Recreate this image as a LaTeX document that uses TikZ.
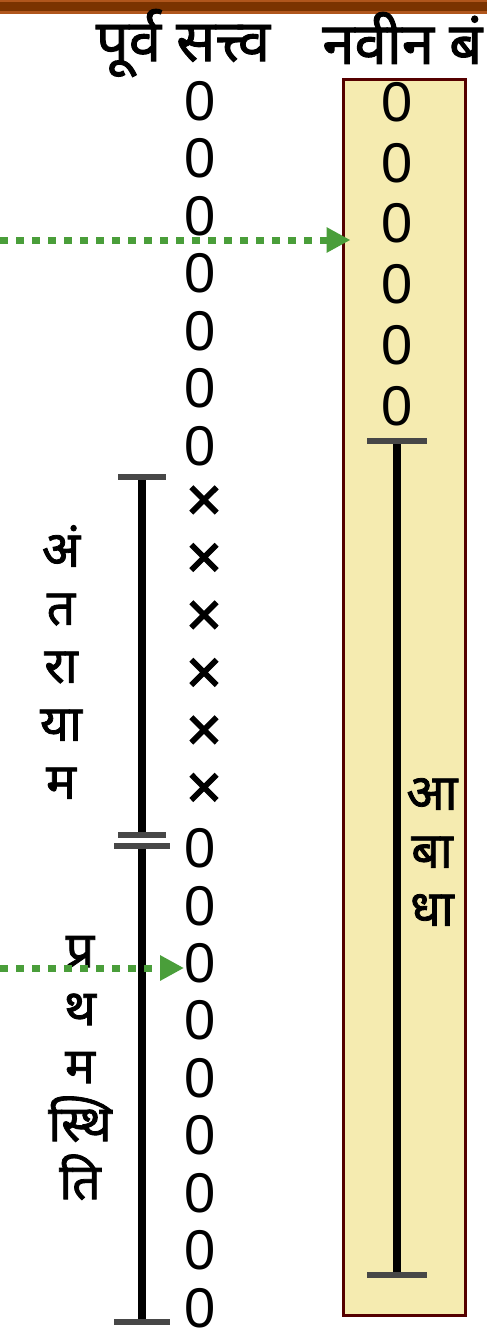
\documentclass[tikz,border=0pt]{standalone}
\usepackage{fontspec}
\setmainfont{Liberation Sans}
\newfontfamily\devafont[Script=Devanagari,FakeBold=1.6]{Noto Sans}
\newfontfamily\crossfont[FakeBold=2]{Liberation Sans}
\usetikzlibrary{arrows.meta,positioning}
\definecolor{KarmaBand}{HTML}{7A3300}
\definecolor{KarmaBandEdge}{HTML}{B0561C}
\definecolor{KarmaPaper}{HTML}{F5EBB0}
\definecolor{KarmaFrame}{HTML}{550000}
\definecolor{KarmaGreen}{HTML}{4A9E3A}
\definecolor{KarmaCap}{HTML}{474747}
\tikzset{
  karmasym/.style={inner sep=0pt,font=\fontsize{28}{30}\selectfont},
  karmacross/.style={inner sep=0pt,font=\crossfont\fontsize{31}{33}\selectfont},
  karmahead/.style={inner sep=0pt,font=\devafont\fontsize{29}{31}\selectfont},
  karmalabel/.style={inner sep=0pt,align=center,font=\devafont\fontsize{25}{29}\selectfont},
  karmabox/.style={
    draw=KarmaFrame,
    fill=KarmaPaper,
    line width=1.5pt,
    minimum width=61pt,
    minimum height=618pt,
    inner sep=0pt
  },
  karmaspan/.style={draw=black,line width=4pt},
  karmacap/.style={draw=KarmaCap,line width=3pt},
  karmaflow/.style={-{Triangle[length=12pt,width=12pt]},draw=KarmaGreen,line width=3.5pt,dash pattern=on 4pt off 4pt}
}

\begin{document}
\begin{tikzpicture}[x=0.5pt,y=-0.5pt]
  \clip (0,0) rectangle (487,1340);
  % top band
  \fill[KarmaBandEdge] (0,0) rectangle (487,14);
  \fill[KarmaBand] (0,2) rectangle (487,11);
  % headings
  \node[karmahead] (oldhead) at (183,43) {पूर्व सत्त्व};
  \node[karmahead,anchor=west] (newhead) at (322,38) {नवीन बं};
  % new bond column
  \node[karmabox] (newbox) at (404,697) {};
  \foreach \j in {0,...,5}
    \node[karmasym] (new\j) at (397,{102+60.8*\j}) {0};
  % old stock column
  \foreach \i in {0,...,6,13,14,...,21}
    \node[karmasym] (old\i) at (200,{101+57.48*\i}) {0};
  \foreach \i in {7,...,12}
    \node[karmacross] (old\i) at (204,{101+57.48*\i}) {×};
  % abadha
  \coordinate (abtop) at (397,441);
  \coordinate (abbot) at (397,1275);
  \draw[karmaspan] (abtop) -- (abbot);
  \draw[karmacap] ([xshift=-15pt]abtop) -- ([xshift=15pt]abtop);
  \draw[karmacap] ([xshift=-15pt]abbot) -- ([xshift=15pt]abbot);
  \node[karmalabel] (abadha) at (432,852) {आ\\बा\\धा};
  % antarayam
  \coordinate (antop) at (142,477);
  \coordinate (anbot) at (142,835);
  \draw[karmaspan] (antop) -- (anbot);
  \draw[karmacap] ([xshift=-12pt]antop) -- ([xshift=12pt]antop);
  \draw[karmacap] ([xshift=-12pt]anbot) -- ([xshift=12pt]anbot);
  \node[karmalabel] (antaram) at (61,662) {अं\\त\\रा\\या\\म};
  % pratham sthiti
  \coordinate (prtop) at (142,846);
  \coordinate (prbot) at (142,1322);
  \draw[karmaspan] (prtop) -- (prbot);
  \draw[karmacap] ([xshift=-14pt]prtop) -- ([xshift=14pt]prtop);
  \draw[karmacap] ([xshift=-14pt]prbot) -- ([xshift=14pt]prbot);
  \node[karmalabel] (pratham) at (80,1068) {प्र\\थ\\म\\स्थि\\ति};
  % transfers
  \coordinate (srcup) at (0,240);
  \coordinate (srcdown) at (0,968);
  \draw[karmaflow,shorten >=-4.5pt] (srcup) -- (srcup -| newbox.west);
  \draw[karmaflow] (srcdown) -- (srcdown -| old15.west);
\end{tikzpicture}
\end{document}
